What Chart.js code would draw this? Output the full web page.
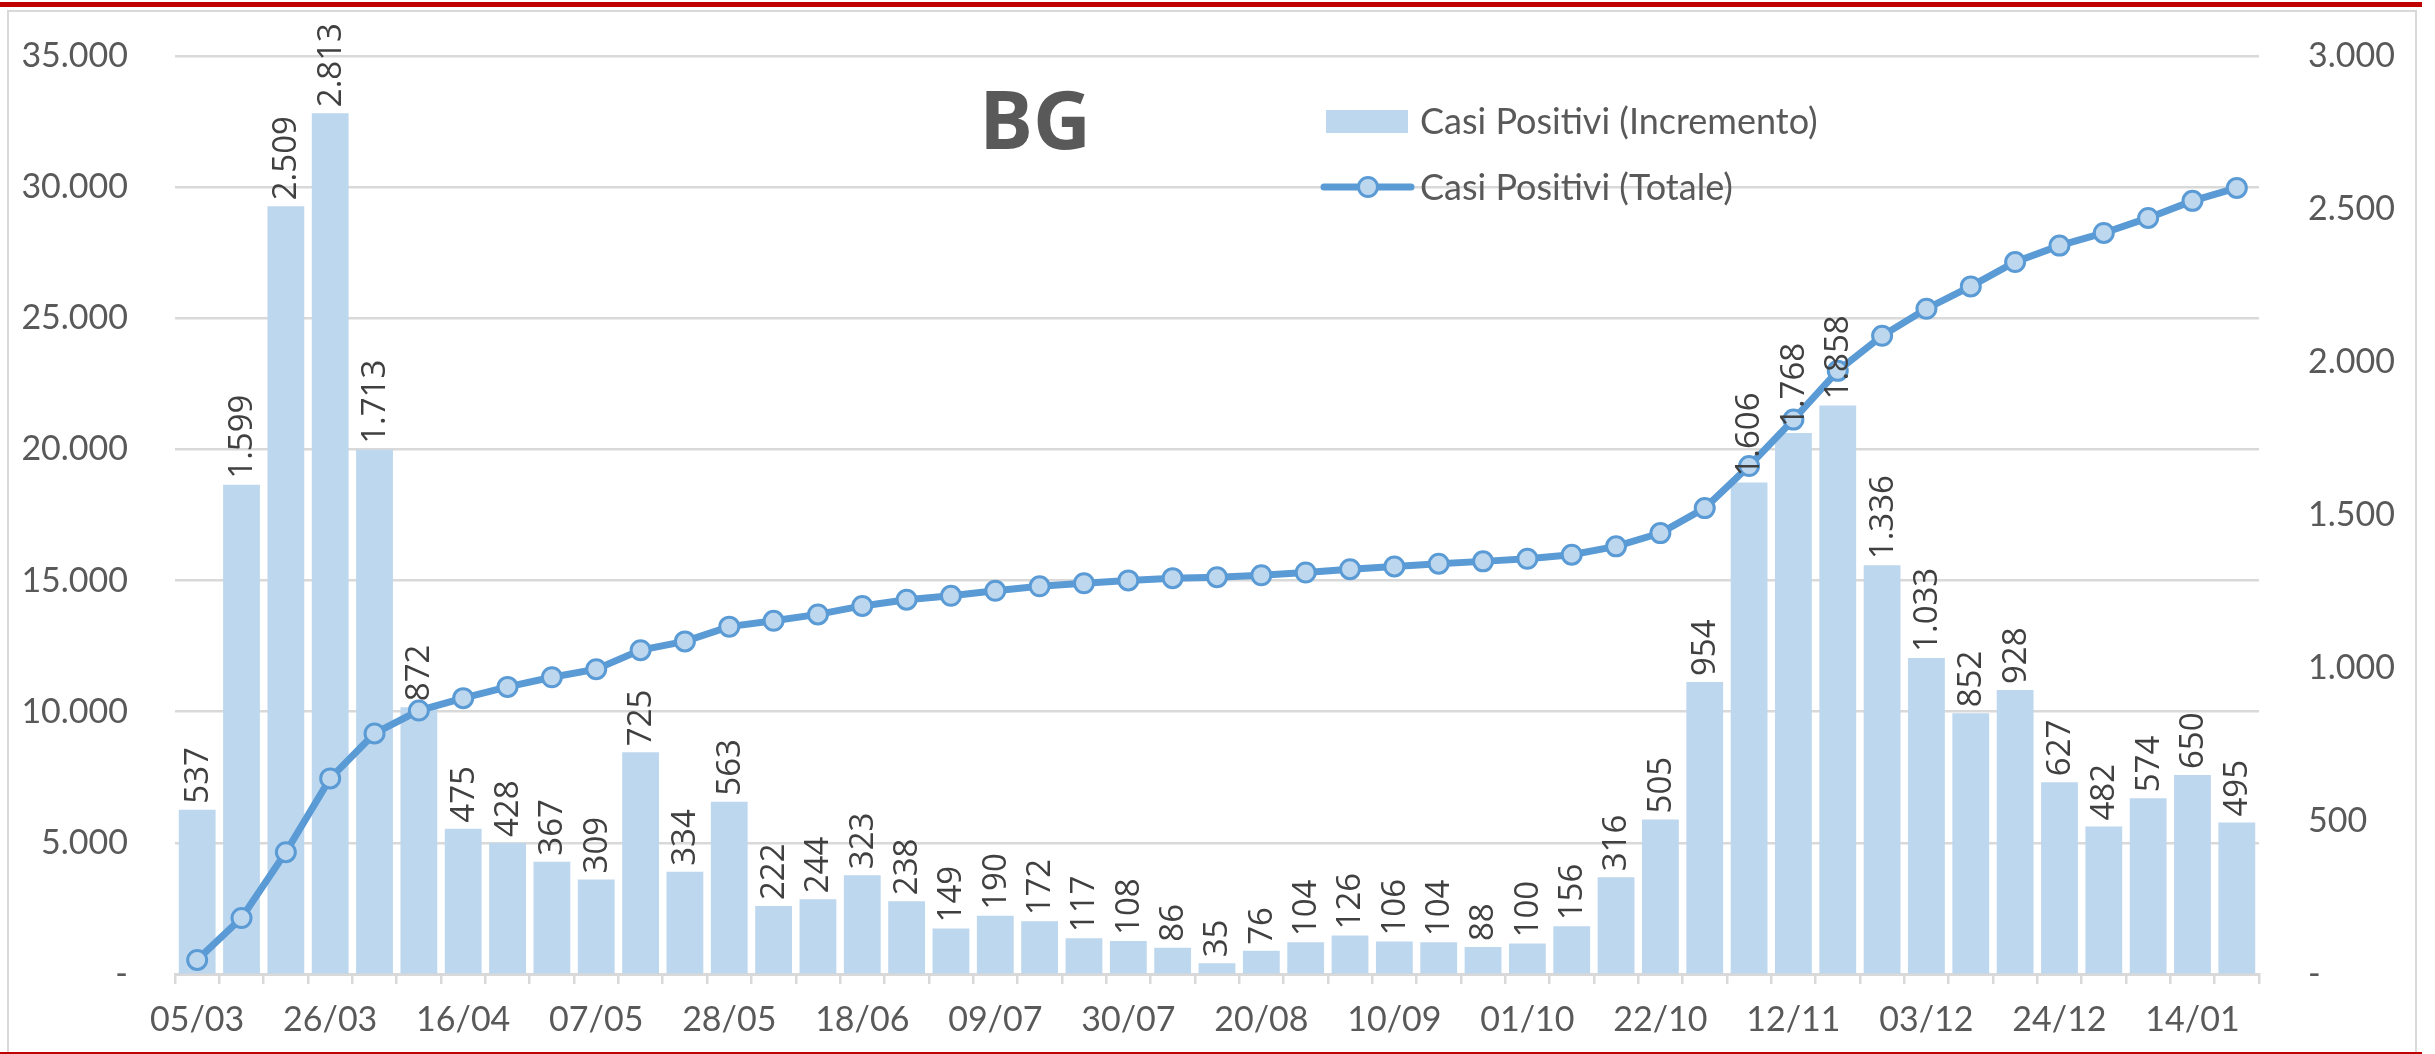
<!DOCTYPE html>
<html>
<head>
<meta charset="utf-8">
<script src="https://cdn.jsdelivr.net/npm/chart.js@4.4.1/dist/chart.umd.min.js"></script>
<style>
  html, body { margin: 0; padding: 0; background: #fff; overflow: hidden; }
  #cornice { position: absolute; left: 7px; top: 10px; width: 2410px; height: 1060px; border: 2px solid #D9D9D9; box-sizing: border-box; }
  #rossoAlto { position: absolute; left: 0; top: 2px; width: 2422px; height: 5px; background: #C00000; }
  #rossoBasso { position: absolute; left: 0; top: 1052px; width: 2422px; height: 2px; background: #C00000; }
  #grafico { position: absolute; left: 0; top: 0; }
</style>
</head>
<body>
<div id="cornice"></div>
<div id="rossoAlto"></div>
<div id="rossoBasso"></div>
<canvas id="grafico" width="2435" height="1054"></canvas>
<script>
// settimane (giovedi) da marzo 2020 a gennaio 2021
const settimane = ["05/03","12/03","19/03","26/03","02/04","09/04","16/04","23/04","30/04","07/05",
  "14/05","21/05","28/05","04/06","11/06","18/06","25/06","02/07","09/07","16/07",
  "23/07","30/07","06/08","13/08","20/08","27/08","03/09","10/09","17/09","24/09",
  "01/10","08/10","15/10","22/10","29/10","05/11","12/11","19/11","26/11","03/12",
  "10/12","17/12","24/12","31/12","07/01","14/01","21/01"];

// casi positivi nuovi per settimana (asse destro)
const incremento = [537,1599,2509,2813,1713,872,475,428,367,309,
  725,334,563,222,244,323,238,149,190,172,
  117,108,86,35,76,104,126,106,104,88,
  100,156,316,505,954,1606,1768,1858,1336,1033,
  852,928,627,482,574,650,495];

// casi positivi totali (asse sinistro)
const totale = [537,2136,4645,7458,9171,10043,10518,10946,11313,11622,
  12347,12681,13244,13466,13710,14033,14271,14420,14610,14782,
  14899,15007,15093,15128,15204,15308,15434,15540,15644,15732,
  15832,15988,16304,16809,17763,19369,21137,22995,24331,25364,
  26216,27144,27771,28253,28827,29477,29972];

const titolo = "BG";
const nomeIncremento = "Casi Positivi (Incremento)";
const nomeTotale = "Casi Positivi (Totale)";

const azzurro = "#BDD7EE";
const blu = "#5B9BD5";
const grigio = "#595959";

function formatta(v) {
  if (v === 0) return "-";
  return String(v).replace(/\B(?=(\d{3})+(?!\d))/g, ".");
}

// etichette ruotate sopra le barre, titolo e legenda dentro il grafico
const decorazioni = {
  id: "decorazioni",
  afterDatasetsDraw(chart) {
    const ctx = chart.ctx;
    const barre = chart.getDatasetMeta(0);
    ctx.save();
    ctx.font = '33px "Open Sans"';
    ctx.fillStyle = "#404040";
    ctx.textAlign = "left";
    ctx.textBaseline = "middle";
    barre.data.forEach((b, i) => {
      ctx.save();
      ctx.translate(b.x + 1, b.y - 6);
      ctx.rotate(-Math.PI / 2);
      ctx.fillText(formatta(incremento[i]), 0, 0);
      ctx.restore();
    });
    ctx.restore();
  },
  afterDraw(chart) {
    const ctx = chart.ctx;
    ctx.save();
    // titolo
    ctx.font = 'bold 80px "Open Sans"';
    ctx.fillStyle = grigio;
    ctx.textAlign = "center";
    ctx.textBaseline = "middle";
    ctx.fillText(titolo, 1035, 126);

    // legenda
    ctx.fillStyle = azzurro;
    ctx.fillRect(1326, 110, 82, 23);
    ctx.strokeStyle = blu;
    ctx.lineWidth = 7;
    ctx.lineCap = "round";
    ctx.beginPath();
    ctx.moveTo(1324, 187);
    ctx.lineTo(1411, 187);
    ctx.stroke();
    ctx.beginPath();
    ctx.arc(1368, 187, 9.5, 0, Math.PI * 2);
    ctx.fillStyle = azzurro;
    ctx.fill();
    ctx.lineWidth = 3;
    ctx.stroke();

    ctx.font = '36px Lato';
    ctx.fillStyle = grigio;
    ctx.textAlign = "left";
    ctx.fillText(nomeIncremento, 1420, 122);
    ctx.fillText(nomeTotale, 1420, 188);
    ctx.restore();
  }
};

function disegna() {
  new Chart(document.getElementById("grafico"), {
    type: "bar",
    data: {
      labels: settimane,
      datasets: [{
        label: nomeIncremento,
        data: incremento,
        yAxisID: "y1",
        backgroundColor: azzurro,
        categoryPercentage: 1,
        barPercentage: 0.83,
        order: 1
      }, {
        type: "line",
        label: nomeTotale,
        data: totale,
        yAxisID: "y",
        borderColor: blu,
        borderWidth: 7,
        pointRadius: 9.5,
        pointBorderWidth: 3,
        pointBackgroundColor: azzurro,
        pointBorderColor: blu,
        tension: 0,
        order: 0
      }]
    },
    options: {
      responsive: false,
      animation: false,
      layout: { padding: { top: 56, left: 0, right: 0, bottom: 0 } },
      plugins: {
        legend: { display: false },
        tooltip: { enabled: false }
      },
      scales: {
        x: {
          offset: true,
          grid: { offset: true, drawOnChartArea: false, drawTicks: true, tickLength: 10, color: "#D9D9D9", lineWidth: 2.5 },
          border: { color: "#D9D9D9", width: 3 },
          ticks: {
            autoSkip: false,
            maxRotation: 0,
            padding: 16,
            color: grigio,
            font: { family: "Lato", size: 34 },
            callback: (v, i) => (i % 3 === 0 ? settimane[i] : "")
          },
          afterFit: (s) => { s.height = 80; }
        },
        y: {
          position: "left",
          min: 0,
          max: 35000,
          // tacche invisibili: servono solo a distanziare le etichette
          grid: { color: "#D9D9D9", lineWidth: 2.5, drawTicks: true, tickLength: 42, tickColor: "rgba(0,0,0,0)" },
          border: { display: false },
          ticks: {
            stepSize: 5000,
            padding: 5,
            color: grigio,
            font: { family: "Lato", size: 34 },
            callback: (v) => formatta(v)
          },
          afterFit: (s) => { s.width = 175; }
        },
        y1: {
          position: "right",
          min: 0,
          max: 3000,
          grid: { drawOnChartArea: false, drawTicks: true, tickLength: 44, tickColor: "rgba(0,0,0,0)" },
          border: { display: false },
          ticks: {
            stepSize: 500,
            padding: 5,
            color: grigio,
            font: { family: "Lato", size: 34 },
            callback: (v) => formatta(v)
          },
          afterFit: (s) => { s.width = 176; }
        }
      }
    },
    plugins: [decorazioni]
  });
}

Promise.all([
  document.fonts.load('34px Lato'),
  document.fonts.load('33px "Open Sans"'),
  document.fonts.load('bold 80px "Open Sans"')
]).then(disegna, disegna);
</script>
</body>
</html>
